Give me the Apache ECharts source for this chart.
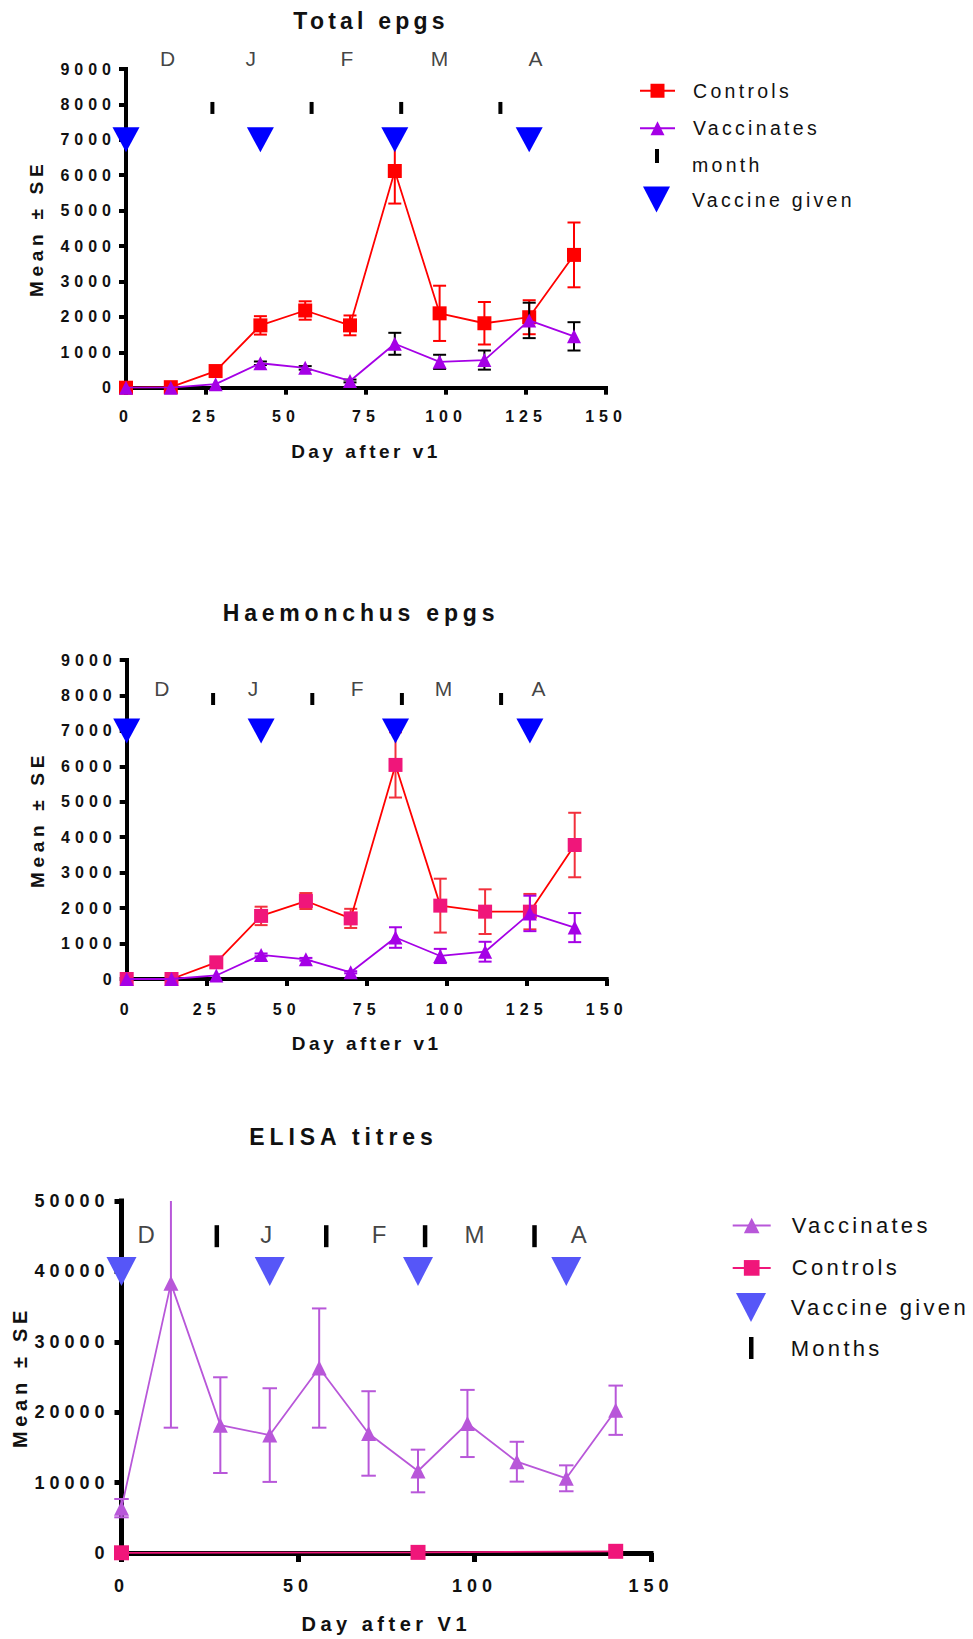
<!DOCTYPE html>
<html>
<head>
<meta charset="utf-8">
<script src="https://cdn.jsdelivr.net/npm/echarts@6/dist/echarts.min.js"></script>
<style>
  html, body { margin: 0; padding: 0; background: #fff; }
  #chart { width: 973px; height: 1639px; }
</style>
</head>
<body>
<div id="chart"></div>
<script>
// ---- data -------------------------------------------------------------
const days = [0, 14, 28, 42, 56, 70, 84, 98, 112, 126, 140];

// Total epgs (mean and SE)
const totalControlsMean = [0, 15, 470, 1760, 2180, 1760, 6120, 2100, 1820, 1990, 3750];
const totalControlsSE   = [0, 0, 0, 260, 260, 280, 920, 780, 600, 480, 915];
const totalVaccMean     = [0, 0, 100, 690, 560, 190, 1240, 730, 780, 1900, 1450];
const totalVaccSE       = [0, 0, 0, 50, 50, 40, 310, 200, 270, 500, 400];

// Haemonchus epgs (mean and SE)
const haemControlsMean = [0, 0, 470, 1780, 2200, 1710, 6040, 2070, 1900, 1900, 3780];
const haemControlsSE   = [0, 0, 0, 260, 225, 270, 920, 760, 630, 500, 910];
const haemVaccMean     = [0, 0, 100, 680, 555, 190, 1170, 650, 770, 1850, 1450];
const haemVaccSE       = [0, 0, 0, 40, 40, 30, 290, 200, 280, 500, 410];

// ELISA titres (mean and SE)
const elisaVaccMean = [6370, 38300, 18160, 16750, 26270, 16980, 11650, 18400, 12970, 10610, 20280];
const elisaVaccSE   = [1300, 20500, 6800, 6650, 8470, 6000, 3030, 4770, 2830, 1840, 3500];
const elisaControlDays = [0, 84, 140];
const elisaControlsMean = [30, 90, 240];

// calendar annotations
const vaccineDays = [0, 42, 84, 126];
const monthStartDays = [27, 58, 86, 117];
const monthLetters = ['D', 'J', 'F', 'M', 'A'];
const letterDaysTotal = [13, 39, 69, 98, 128];
const letterDaysHaem  = [11, 39.5, 72, 99, 128.7];
const letterDaysElisa = [7, 41, 73, 100, 129.5];

// annotation heights on each y scale
const totalLetterLevel = 9300, totalTickLevel = 7900, totalVaccineLevel = 7000;
const haemLetterLevel = 8200, haemTickLevel = 7900, haemVaccineLevel = 7000;
const elisaLetterLevel = 45300, elisaTickLevel = 45000, elisaVaccineLevel = 40000;

// axis ticks
const epgMax = 9000, epgStep = 1000;
const elisaMax = 50000, elisaStep = 10000;
const dayMax = 150, epgDayStep = 25, elisaDayStep = 50;

// ---- styling helpers --------------------------------------------------
const FONT = '"Liberation Sans", Arial, sans-serif';
const INK = '#111';

const RED = '#ff0000';
const PURPLE = '#a500e6';
const PINK = '#f0167a';
const PINK_RED = '#f2303c';
const ORCHID = '#b857d9';
const BLUE = '#0000ff';
const SOFT_BLUE = '#5656f8';

const plainNumber = v => String(v);

function xAxisDef(gi, step, o) {
  return {
    gridIndex: gi, type: 'value', min: 0, max: dayMax, interval: step,
    axisLine: { onZero: false, lineStyle: { color: '#000', width: o.lw, cap: 'square' } },
    axisTick: { length: o.tick, lineStyle: { color: '#000', width: o.lw } },
    splitLine: { show: false },
    axisLabel: { color: INK, fontWeight: 'bold', fontSize: o.fs, fontFamily: FONT, margin: o.margin, formatter: plainNumber },
    name: o.name, nameLocation: 'middle', nameGap: o.nameGap,
    nameTextStyle: { color: INK, fontWeight: 'bold', fontSize: o.nameFs, fontFamily: FONT }
  };
}
function yAxisDef(gi, max, step, o) {
  return {
    gridIndex: gi, type: 'value', min: 0, max: max, interval: step,
    axisLine: { onZero: false, lineStyle: { color: '#000', width: o.lw, cap: 'square' } },
    axisTick: { length: o.tick, lineStyle: { color: '#000', width: o.lw } },
    splitLine: { show: false },
    axisLabel: { color: INK, fontWeight: 'bold', fontSize: o.fs, fontFamily: FONT, margin: o.margin, formatter: plainNumber },
    name: 'Mean ± SE', nameLocation: 'middle', nameRotate: 90, nameGap: o.nameGap,
    nameTextStyle: { color: INK, fontWeight: 'bold', fontSize: o.nameFs, fontFamily: FONT }
  };
}

function meanLine(name, gi, xs, means, symbol, size, lineColor, markColor, z) {
  return {
    name, type: 'line', xAxisIndex: gi, yAxisIndex: gi, z,
    data: xs.map((d, i) => [d, means[i]]),
    symbol, symbolSize: size, showAllSymbol: true,
    lineStyle: { color: lineColor, width: 1.8 },
    itemStyle: { color: markColor, opacity: 1 },
    emphasis: { disabled: true }
  };
}

function errorBars(gi, means, ses, color, capWidth, ceil, z) {
  const rows = [];
  days.forEach((d, i) => { if (ses[i] > 0) rows.push([d, means[i] - ses[i], means[i] + ses[i]]); });
  return {
    type: 'custom', xAxisIndex: gi, yAxisIndex: gi, z, silent: true,
    data: rows, encode: { x: 0, y: [1, 2] },
    renderItem(params, api) {
      const x = api.value(0), lowV = api.value(1), highV = api.value(2);
      const clipped = highV > ceil;
      const lo = api.coord([x, lowV]);
      const hi = api.coord([x, Math.min(highV, ceil)]);
      const hw = capWidth / 2;
      const st = { stroke: color, lineWidth: 2, fill: null };
      const kids = [
        { type: 'line', shape: { x1: lo[0], y1: lo[1], x2: hi[0], y2: hi[1] }, style: st },
        { type: 'line', shape: { x1: lo[0] - hw, y1: lo[1], x2: lo[0] + hw, y2: lo[1] }, style: st }
      ];
      if (!clipped) kids.push({ type: 'line', shape: { x1: hi[0] - hw, y1: hi[1], x2: hi[0] + hw, y2: hi[1] }, style: st });
      return { type: 'group', children: kids };
    }
  };
}

function vaccineMarks(name, gi, level, color, size, z) {
  return {
    name, type: 'scatter', xAxisIndex: gi, yAxisIndex: gi, z, clip: false,
    data: vaccineDays.map(d => [d, level]),
    symbol: 'triangle', symbolRotate: 180, symbolSize: size,
    itemStyle: { color, opacity: 1 }, emphasis: { disabled: true }
  };
}
function monthTicks(name, gi, level, size, z) {
  return {
    name, type: 'scatter', xAxisIndex: gi, yAxisIndex: gi, z, clip: false,
    data: monthStartDays.map(d => [d, level]),
    symbol: 'rect', symbolSize: size,
    itemStyle: { color: '#000', opacity: 1 }, emphasis: { disabled: true }
  };
}
function monthLabels(gi, xs, level, fs, z) {
  return {
    type: 'scatter', xAxisIndex: gi, yAxisIndex: gi, z, clip: false, silent: true,
    data: monthLetters.map((m, i) => ({ name: m, value: [xs[i], level] })),
    symbolSize: 1, itemStyle: { color: 'transparent' },
    label: { show: true, position: 'inside', formatter: p => p.name, color: INK, fontSize: fs, fontFamily: FONT }
  };
}

// one legend entry per row; `left` is the left edge of the drawn icon
function legendRow(left, top, itemWidth, itemHeight, fs, padLeft, item, extra) {
  return Object.assign({
    show: true, orient: 'vertical', left, top, padding: 0, itemGap: 0,
    itemWidth, itemHeight, selectedMode: false, symbolKeepAspect: true, symbolRotate: 0,
    textStyle: { fontSize: fs, color: INK, fontFamily: FONT, lineHeight: itemHeight, padding: [0, 0, 0, padLeft] },
    data: [item]
  }, extra || {});
}

// ---- option -----------------------------------------------------------
const option = {
  animation: false,
  backgroundColor: '#fff',
  grid: [
    { left: 126, top: 69, width: 480, height: 318.7 },
    { left: 126.7, top: 660, width: 480, height: 319 },
    { left: 121.5, top: 1201, width: 529.5, height: 352 }
  ],
  xAxis: [
    xAxisDef(0, epgDayStep, { lw: 4, tick: 7, fs: 16, margin: 21, name: 'Day after v1', nameGap: 54, nameFs: 19 }),
    xAxisDef(1, epgDayStep, { lw: 4, tick: 7, fs: 16, margin: 22, name: 'Day after v1', nameGap: 55, nameFs: 19 }),
    xAxisDef(2, elisaDayStep, { lw: 5, tick: 9, fs: 18, margin: 24, name: 'Day after V1', nameGap: 61, nameFs: 20 })
  ],
  yAxis: [
    yAxisDef(0, epgMax, epgStep, { lw: 4, tick: 7, fs: 16, margin: 10, nameGap: 80, nameFs: 19 }),
    yAxisDef(1, epgMax, epgStep, { lw: 4, tick: 7, fs: 16, margin: 10, nameGap: 80, nameFs: 19 }),
    yAxisDef(2, elisaMax, elisaStep, { lw: 5, tick: 7, fs: 18, margin: 12, nameGap: 92, nameFs: 20 })
  ],
  graphic: [
    { type: 'text', x: 371, y: 21, style: { text: 'Total epgs', fontSize: 23, fontWeight: 'bold', fontFamily: FONT, fill: INK, align: 'center', verticalAlign: 'middle' } },
    { type: 'text', x: 361, y: 613, style: { text: 'Haemonchus epgs', fontSize: 23, fontWeight: 'bold', fontFamily: FONT, fill: INK, align: 'center', verticalAlign: 'middle' } },
    { type: 'text', x: 343.5, y: 1137, style: { text: 'ELISA titres', fontSize: 23, fontWeight: 'bold', fontFamily: FONT, fill: INK, align: 'center', verticalAlign: 'middle' } }
  ],
  legend: [
    legendRow(639, 80.75, 35, 17.5, 19.5, 13, { name: 'Controls', itemStyle: { color: RED }, lineStyle: { color: RED, width: 2 } }),
    legendRow(639, 118.25, 35, 17.5, 19.5, 13, { name: 'Vaccinates', itemStyle: { color: PURPLE }, lineStyle: { color: PURPLE, width: 2 } }),
    legendRow(655, 137, 4, 14, 19.5, 28, { name: 'month', icon: 'path://M0,0h4v14h-4z', itemStyle: { color: '#000' } },
      { formatter: '\n{name}', textStyle: { fontSize: 19.5, color: INK, fontFamily: FONT, lineHeight: 18, padding: [0, 0, 0, 28] } }),
    legendRow(643, 186.5, 27, 26, 19.5, 17, { name: 'Vaccine given', icon: 'path://M0,0L27,0L13.5,26Z', itemStyle: { color: BLUE } }),

    legendRow(731.7, 1214.5, 38, 19.6, 22, 16, { name: 'Vaccinates', itemStyle: { color: ORCHID }, lineStyle: { color: ORCHID, width: 2 } }),
    legendRow(731.7, 1256.9, 38, 19.6, 22, 16, { name: 'Controls', itemStyle: { color: PINK }, lineStyle: { color: PINK, width: 2 } }),
    legendRow(736, 1293, 30, 29, 22, 19.7, { name: 'Vaccine given', icon: 'path://M0,0L30,0L15,29Z', itemStyle: { color: SOFT_BLUE } }),
    legendRow(749, 1337, 4.5, 22, 22, 32.2, { name: 'Months', icon: 'path://M0,0h4.5v22h-4.5z', itemStyle: { color: '#000' } })
  ],
  series: [
    // Total epgs
    errorBars(0, totalControlsMean, totalControlsSE, RED, 13, epgMax, 3),
    meanLine('Controls', 0, days, totalControlsMean, 'rect', 14, RED, RED, 4),
    errorBars(0, totalVaccMean, totalVaccSE, '#000', 13, epgMax, 5),
    meanLine('Vaccinates', 0, days, totalVaccMean, 'triangle', 14, PURPLE, PURPLE, 6),
    monthLabels(0, letterDaysTotal, totalLetterLevel, 21, 7),
    monthTicks('month', 0, totalTickLevel, [4, 12], 7),
    vaccineMarks('Vaccine given', 0, totalVaccineLevel, BLUE, [27, 25], 8),

    // Haemonchus epgs
    errorBars(1, haemControlsMean, haemControlsSE, PINK_RED, 13, epgMax, 3),
    meanLine('Controls', 1, days, haemControlsMean, 'rect', 14, RED, PINK, 4),
    errorBars(1, haemVaccMean, haemVaccSE, PURPLE, 13, epgMax, 5),
    meanLine('Vaccinates', 1, days, haemVaccMean, 'triangle', 14, PURPLE, PURPLE, 6),
    monthLabels(1, letterDaysHaem, haemLetterLevel, 21, 7),
    monthTicks('month', 1, haemTickLevel, [4, 12], 7),
    vaccineMarks('Vaccine given', 1, haemVaccineLevel, BLUE, [27, 25], 8),

    // ELISA titres
    errorBars(2, elisaVaccMean, elisaVaccSE, ORCHID, 14.5, elisaMax, 3),
    meanLine('Vaccinates', 2, days, elisaVaccMean, 'triangle', 15, ORCHID, ORCHID, 4),
    meanLine('Controls', 2, elisaControlDays, elisaControlsMean, 'rect', 15, PINK, PINK, 5),
    monthLabels(2, letterDaysElisa, elisaLetterLevel, 24, 7),
    monthTicks('Months', 2, elisaTickLevel, [4.5, 22], 7),
    vaccineMarks('Vaccine given', 2, elisaVaccineLevel, SOFT_BLUE, [30, 29], 8)
  ]
};

const chart = echarts.init(document.getElementById('chart'), null, { renderer: 'svg', width: 973, height: 1639 });
chart.setOption(option);

// widen the tracking of the text, as in the printed figure
const trackingByText = {
  'Total epgs': 4.2, 'Haemonchus epgs': 4.8, 'ELISA titres': 4.9,
  'Day after v1': 3.5, 'Day after V1': 4.5, 'Mean ± SE': 4.7,
  'Controls': 3.3, 'Vaccinates': 3.3, 'month': 3.3, 'Vaccine given': 3.3, 'Months': 3.3
};
function applyTracking() {
  document.querySelectorAll('#chart svg text').forEach(t => {
    const s = t.textContent.trim();
    let ls = trackingByText[s];
    if (ls === undefined && /^\d+$/.test(s)) ls = 5;
    if (ls !== undefined) t.style.letterSpacing = ls + 'px';
  });
}
chart.on('finished', applyTracking);
applyTracking();
</script>
</body>
</html>
